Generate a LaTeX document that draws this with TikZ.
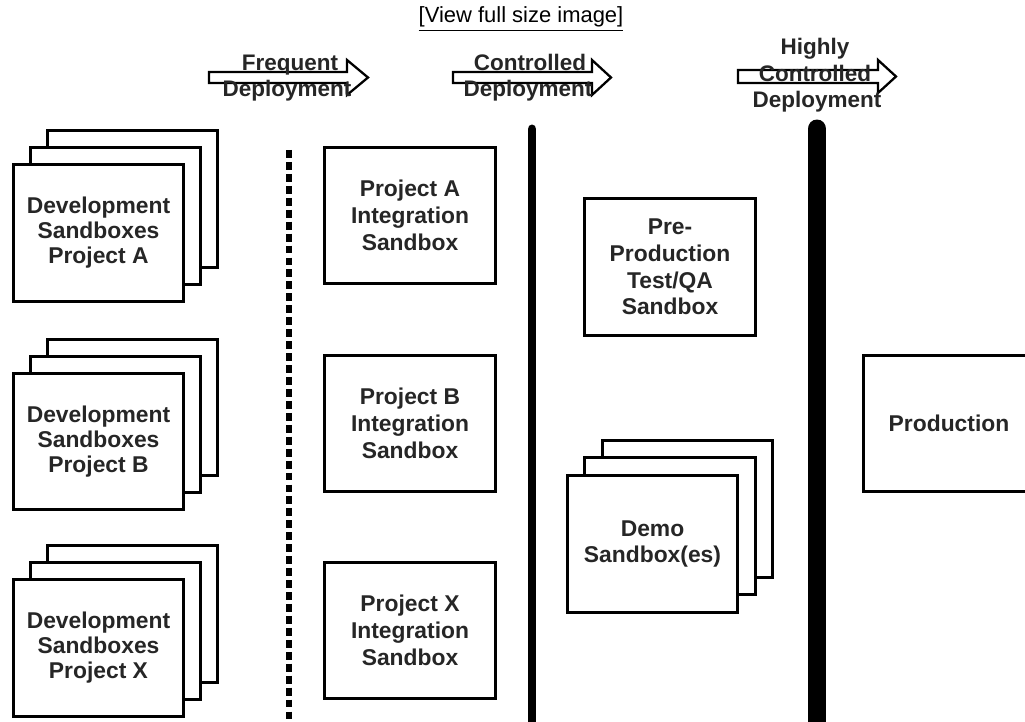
\documentclass[tikz,border=0pt]{standalone}
\usepackage{fontspec}
\setmainfont{Liberation Sans}

\tikzset{
  box/.style={draw=black, line width=1.7pt, fill=white, minimum width=3.42cm, minimum height=2.74cm,
    inner sep=0pt, align=center, text=black!85, font=\fontsize{13}{15.2}\selectfont\bfseries},
  devbox/.style={box, font=\fontsize{13}{14.2}\selectfont\bfseries},
  shiftlabel/.style={anchor=base, inner sep=0pt, text=black!85, font=\fontsize{12.8}{14}\selectfont\bfseries},
  deparrow/.style={draw=black, line width=1.3pt, fill=white, line join=miter},
}

\begin{document}
\begin{tikzpicture}[x=0.02cm, y=-0.02cm]
\path[use as bounding box, clip] (0,0) rectangle (1025,722);
\node[font=\fontsize{12.5}{15}\selectfont, inner sep=0pt] (viewlink) at (521,19) {\underline{[View full size image]}};

% deployment arrows
\draw[deparrow] (209,72) -- (347,72) -- (347,60) -- (368,77.5) -- (347,95) -- (347,83) -- (209,83) -- cycle;
\draw[deparrow] (453,72) -- (592,72) -- (592,60) -- (611,77.5) -- (592,95) -- (592,83) -- (453,83) -- cycle;
\draw[deparrow] (738,70) -- (878,70) -- (878,60) -- (896,76.5) -- (878,93) -- (878,83) -- (738,83) -- cycle;
\node[shiftlabel] (freq) at (290,71) {Frequent};
\node[shiftlabel] (freqdep) at (287,97) {Deployment};
\node[shiftlabel] (ctrl) at (530,71) {Controlled};
\node[shiftlabel] (ctrldep) at (528,97) {Deployment};
\node[shiftlabel] (high) at (815,55) {Highly};
\node[shiftlabel] (highctrl) at (815,82) {Controlled};
\node[shiftlabel] (highdep) at (817,108) {Deployment};

% separators
\draw[line width=3.4pt, dash pattern=on 4.5pt off 2.3pt] (289,150) -- (289,722);
\draw[line width=5.1pt, line cap=round] (532,129) -- (532,730);
\draw[line width=10.8pt, line cap=round] (817,129) -- (817,730);

% development sandboxes
\node[box] (devA3) at (132.5,199) {};
\node[box] (devA2) at (115.5,216) {};
\node[devbox] (devA) at (98.5,233) {Development\\Sandboxes\\Project A};
\node[box] (devB3) at (132.5,407.5) {};
\node[box] (devB2) at (115.5,424.5) {};
\node[devbox] (devB) at (98.5,441.5) {Development\\Sandboxes\\Project B};
\node[box] (devX3) at (132.5,614) {};
\node[box] (devX2) at (115.5,631) {};
\node[devbox] (devX) at (98.5,648) {Development\\Sandboxes\\Project X};

% integration sandboxes
\node[box] (intA) at (410,215.5) {Project A\\Integration\\Sandbox};
\node[box] (intB) at (410,423.5) {Project B\\Integration\\Sandbox};
\node[box] (intX) at (410,630.5) {Project X\\Integration\\Sandbox};

% pre-production and demo
\node[box] (preprod) at (670,267) {Pre-\\Production\\Test/QA\\Sandbox};
\node[box] (demo3) at (687.5,509) {};
\node[box] (demo2) at (670,526) {};
\node[box] (demo) at (652.5,544) {Demo\\Sandbox(es)};

\node[box] (prod) at (949,423.5) {Production};
\end{tikzpicture}
\end{document}
